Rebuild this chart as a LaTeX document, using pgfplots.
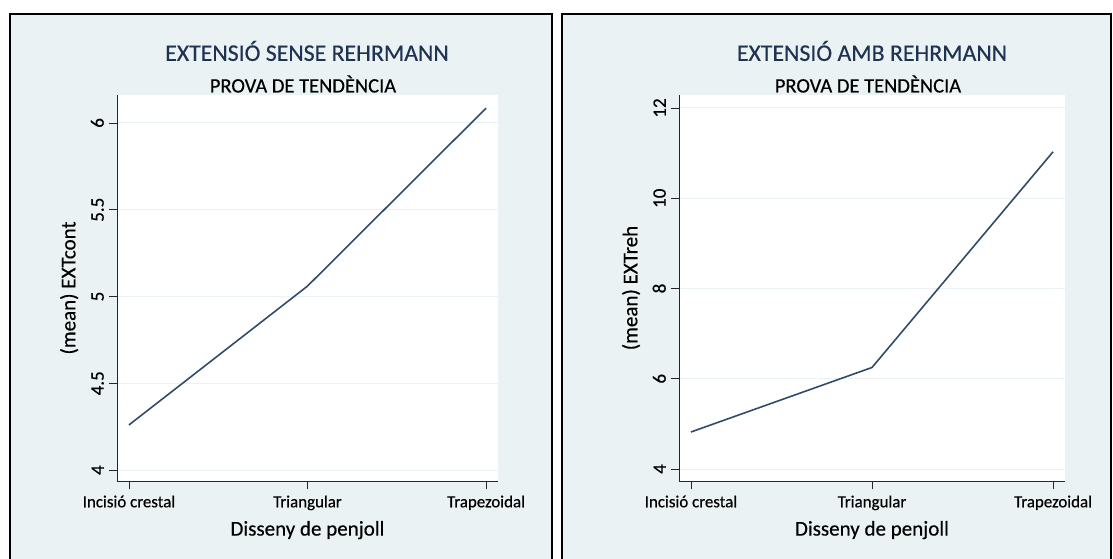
\documentclass[border=0pt]{standalone}
\usepackage{fontspec}
\setmainfont{Carlito}[FakeBold=0.4]
\usepackage{pgfplots}
\pgfplotsset{compat=1.18}
\definecolor{bgc}{RGB}{234,242,243}
\definecolor{linec}{RGB}{50,75,105}
\definecolor{titc}{RGB}{32,50,82}
\pgfplotsset{
  panel/.style={
    scale only axis, anchor=south west,
    axis x line*=bottom, axis y line*=left,
    axis line style={black!85, line width=0.8bp, -},
    axis background/.style={fill=white},
    tick align=outside, major tick length=8bp,
    tick style={black!85, line width=0.8bp},
    xtick={1,2,3},
    xticklabels={Incisió crestal, Triangular, Trapezoidal},
    ymajorgrids, grid style={bgc, line width=1bp},
    xticklabel style={font=\fontsize{16.9bp}{18bp}\selectfont, yshift=-3bp},
    yticklabel style={font=\fontsize{19bp}{20bp}\selectfont, rotate=90, anchor=south, inner sep=5bp},
    label style={font=\fontsize{21bp}{23bp}\selectfont},
    xlabel style={yshift=-4bp},
    ylabel style={yshift=4bp},
    /pgf/number format/assume math mode=true,
    xlabel={Disseny de penjoll},
  }
}
\begin{document}
\begin{tikzpicture}[x=1bp,y=1bp]
\useasboundingbox (0,0) rectangle (1113,-559);
\fill[white] (0,0) rectangle (1113,-559);
\draw[fill=bgc, line width=1.6bp] (10,-14) rectangle (552,-600);
\draw[fill=bgc, line width=1.6bp] (562,-14) rectangle (1111,-600);
\node[titc, font=\fontsize{23.8bp}{26bp}\selectfont] at (307,-51) {EXTENSIÓ SENSE REHRMANN};
\node[black, font=\fontsize{20.5bp}{23bp}\selectfont] at (303,-84) {PROVA DE TENDÈNCIA};
\node[titc, font=\fontsize{23.8bp}{26bp}\selectfont] at (872,-51) {EXTENSIÓ AMB REHRMANN};
\node[black, font=\fontsize{20.5bp}{23bp}\selectfont] at (868,-84) {PROVA DE TENDÈNCIA};
\begin{axis}[panel, at={(117bp,-481bp)}, width=381bp, height=386bp,
  xmin=0.933, xmax=3.067, ymin=3.937, ymax=6.161,
  ytick={4,4.5,5,5.5,6}, ylabel={(mean) EXTcont}]
\addplot[linec, line width=1.6bp] coordinates {(1,4.26) (2,5.06) (3,6.085)};
\end{axis}
\begin{axis}[panel, at={(679bp,-481bp)}, width=386bp, height=386bp,
  xmin=0.934, xmax=3.066, ymin=3.734, ymax=12.288,
  ytick={4,6,8,10,12}, ylabel={(mean) EXTreh}]
\addplot[linec, line width=1.6bp] coordinates {(1,4.82) (2,6.25) (3,11.03)};
\end{axis}
\end{tikzpicture}
\end{document}
